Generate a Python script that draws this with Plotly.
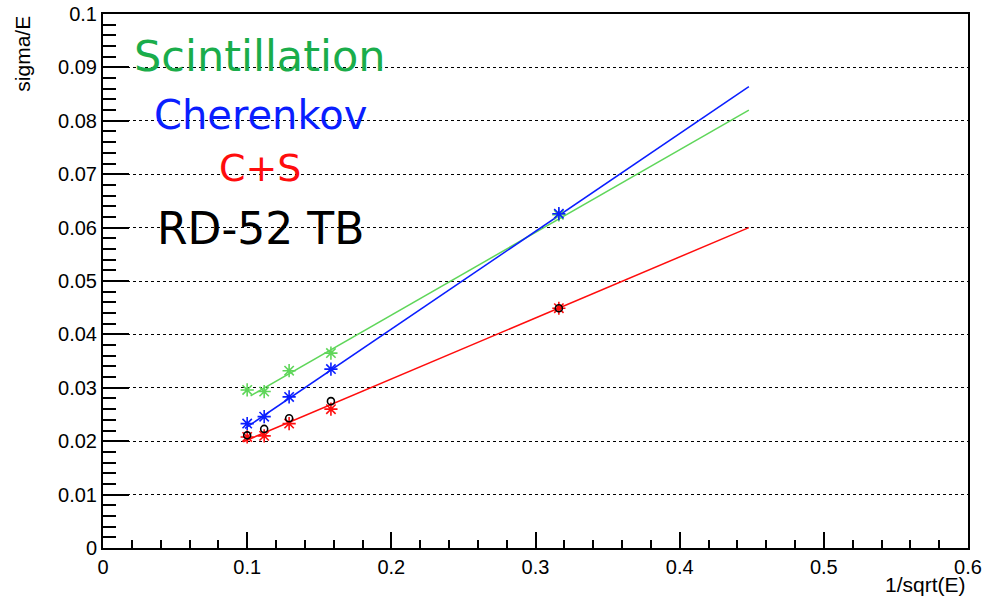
import plotly.graph_objects as go

# Data
x_pts = [0.1, 0.1118, 0.1291, 0.1581, 0.3162]
scint_y = [0.0296, 0.0293, 0.0332, 0.0365, 0.0624]
cher_y = [0.0233, 0.0246, 0.0283, 0.0335, 0.0626]
cs_y = [0.0208, 0.0210, 0.0233, 0.0260, 0.0449]
tb_y = [0.0211, 0.0223, 0.0243, 0.0275, 0.0449]

# Fitted lines (end points)
scint_fit_x = [0.1024, 0.448]
scint_fit_y = [0.0285, 0.0820]
cher_fit_x = [0.0985, 0.448]
cher_fit_y = [0.0224, 0.0864]
cs_fit_x = [0.0973, 0.448]
cs_fit_y = [0.0199, 0.0600]

labels = ["Scintillation", "Cherenkov", "C+S", "RD-52 TB"]
label_y = [0.0921, 0.0811, 0.0712, 0.0599]
label_x = 0.109
label_sizes = [43, 40, 38, 44]

GREEN_LINE = "#5fd65a"
GREEN_TXT = "#1aad4b"
BLUE = "#0a1eff"
RED = "#ff0d0d"

fig = go.Figure()

def line(x, y, c):
    fig.add_trace(go.Scatter(x=x, y=y, mode="lines", line=dict(color=c, width=1.5),
                             showlegend=False, hoverinfo="skip"))

def pts(y, c, sym, size):
    fig.add_trace(go.Scatter(x=x_pts, y=y, mode="markers",
                             marker=dict(symbol=sym, size=size, color=c,
                                         line=dict(color=c, width=1.6)),
                             showlegend=False))

line(scint_fit_x, scint_fit_y, GREEN_LINE)
line(cher_fit_x, cher_fit_y, BLUE)
line(cs_fit_x, cs_fit_y, RED)
pts(scint_y, GREEN_LINE, "asterisk-open", 11)
pts(cher_y, BLUE, "asterisk-open", 11)
pts(cs_y, RED, "asterisk-open", 11)
pts(tb_y, "black", "circle-open", 7)

colors = [GREEN_TXT, BLUE, RED, "black"]
for t, yy, c, s in zip(labels, label_y, colors, label_sizes):
    fig.add_annotation(x=label_x, y=yy, xref="x", yref="y", text=t, showarrow=False,
                       xanchor="center", yanchor="middle",
                       font=dict(family="Comic Sans MS, DejaVu Sans, sans-serif", size=s, color=c))

fig.add_annotation(xref="paper", yref="paper", x=-0.094, y=1.0, text="sigma/E",
                   textangle=-90, showarrow=False, xanchor="center", yanchor="top",
                   font=dict(family="Liberation Sans, Arial", size=21, color="black"))
fig.add_annotation(xref="paper", yref="paper", x=1.0, y=-0.068, text="1/sqrt(E)",
                   showarrow=False, xanchor="right", yanchor="middle",
                   font=dict(family="Liberation Sans, Arial", size=21, color="black"))

fig.update_layout(
    width=984, height=598,
    margin=dict(l=103, r=16, t=14, b=50),
    plot_bgcolor="white", paper_bgcolor="white",
    font=dict(family="Liberation Sans, Arial", size=20, color="black"),
    xaxis=dict(range=[0, 0.6], tickmode="array", automargin=False,
               tickvals=[0, 0.1, 0.2, 0.3, 0.4, 0.5, 0.6],
               ticktext=["0", "0.1", "0.2", "0.3", "0.4", "0.5", "0.6"],
               ticks="inside", ticklen=16, tickwidth=1.5, tickcolor="black",
               minor=dict(ticks="inside", ticklen=8, dtick=0.02, tick0=0, tickcolor="black", tickwidth=1.5, showgrid=False),
               showgrid=False, zeroline=False, showline=True, linecolor="black", linewidth=2,
               mirror=True),
    yaxis=dict(range=[0, 0.1], tickmode="array", automargin=False,
               tickvals=[0, 0.01, 0.02, 0.03, 0.04, 0.05, 0.06, 0.07, 0.08, 0.09, 0.1],
               ticktext=["0", "0.01", "0.02", "0.03", "0.04", "0.05", "0.06", "0.07", "0.08", "0.09", "0.1"],
               ticks="inside", ticklen=26, tickwidth=1.5, tickcolor="black",
               minor=dict(ticks="inside", ticklen=13, dtick=0.002, tick0=0, tickcolor="black", tickwidth=1.5, showgrid=False),
               showgrid=True, gridcolor="black", griddash="dot", gridwidth=1.2,
               zeroline=False, showline=True, linecolor="black", linewidth=2,
               mirror=True),
)

fig.write_html("out.html")
